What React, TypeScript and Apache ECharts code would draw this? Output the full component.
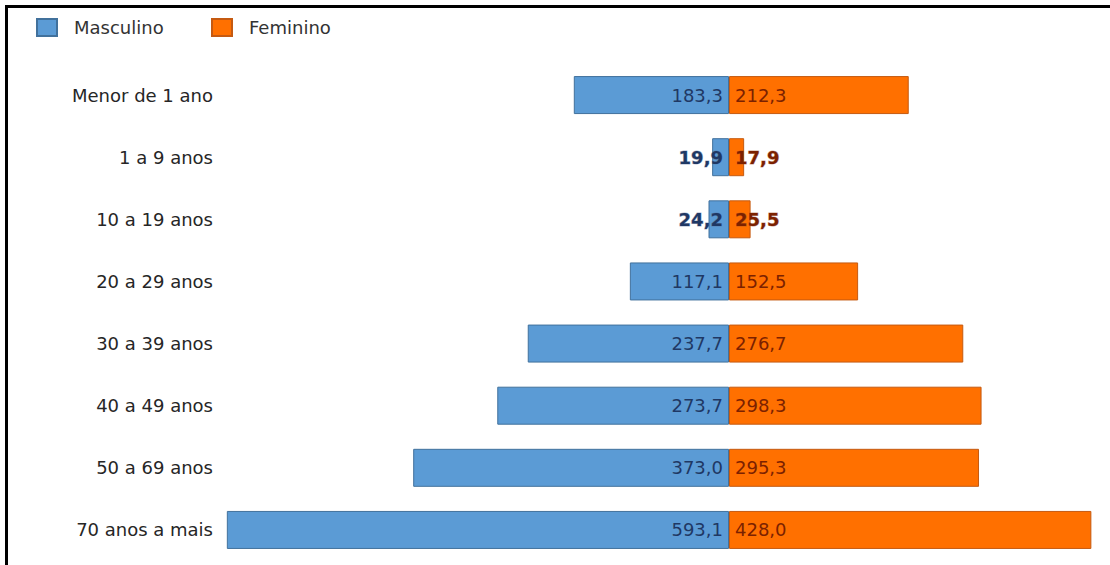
import React, { useEffect, useRef } from "react";
import * as echarts from "echarts";

const categories = [
  "Menor de 1 ano",
  "1 a 9 anos",
  "10 a 19 anos",
  "20 a 29 anos",
  "30 a 39 anos",
  "40 a 49 anos",
  "50 a 69 anos",
  "70 anos a mais",
];
const masculino = [183.3, 19.9, 24.2, 117.1, 237.7, 273.7, 373.0, 593.1];
const feminino = [212.3, 17.9, 25.5, 152.5, 276.7, 298.3, 295.3, 428.0];

const BLUE = "#5B9BD5";
const BLUE_BORDER = "#41719C";
const ORANGE = "#FF7000";
const ORANGE_BORDER = "#C55A11";
const FONT = "DejaVu Sans";

const fmt = (v: number) => Math.abs(v).toFixed(1).replace(".", ",");

export default function App() {
  const ref = useRef<HTMLDivElement>(null);
  useEffect(() => {
    if (!ref.current) return;
    const chart = echarts.init(ref.current, undefined, { renderer: "svg" });
    const small = (v: number) => Math.abs(v) < 50;
    const legendBase = {
      top: 13,
      itemWidth: 20,
      itemHeight: 17,
      icon: "rect",
      textStyle: { fontFamily: FONT, fontSize: 18, color: "#333", padding: [0, 0, 0, 12] },
    };
    chart.setOption({
      animation: false,
      backgroundColor: "#ffffff",
      legend: [
        { ...legendBase, left: 31, data: ["Masculino"] },
        { ...legendBase, left: 206, data: ["Feminino"] },
      ],
      graphic: [
        { type: "rect", shape: { x: 5, y: 5, width: 1105, height: 3 }, style: { fill: "#000" } },
        { type: "rect", shape: { x: 5, y: 5, width: 3, height: 560 }, style: { fill: "#000" } },
      ],
      grid: { left: 221, right: 0, top: 64, bottom: 4 },
      xAxis: {
        type: "value",
        min: -600,
        max: 450,
        show: false,
        splitLine: { show: false },
      },
      yAxis: {
        type: "category",
        data: categories,
        inverse: true,
        axisLine: { show: false },
        axisTick: { show: false },
        axisLabel: { fontFamily: FONT, fontSize: 18, color: "#262626", margin: 8 },
      },
      series: [
        {
          name: "Masculino",
          type: "bar",
          stack: "total",
          barWidth: 38,
          itemStyle: { color: BLUE, borderColor: BLUE_BORDER, borderWidth: 1 },
          data: masculino.map((v) => ({
            value: -v,
            label: small(v)
              ? { fontWeight: "bold", textBorderColor: "rgba(90,110,150,0.5)", textBorderWidth: 1 }
              : undefined,
          })),
          label: {
            show: true,
            position: "insideRight",
            distance: 6,
            fontFamily: FONT,
            fontSize: 18,
            color: "#1F3864",
            formatter: (p: any) => fmt(p.value),
          },
        },
        {
          name: "Feminino",
          type: "bar",
          stack: "total",
          barWidth: 38,
          itemStyle: { color: ORANGE, borderColor: ORANGE_BORDER, borderWidth: 1 },
          data: feminino.map((v) => ({
            value: v,
            label: small(v)
              ? { fontWeight: "bold", textBorderColor: "rgba(160,80,40,0.5)", textBorderWidth: 1 }
              : undefined,
          })),
          label: {
            show: true,
            position: "insideLeft",
            distance: 6,
            fontFamily: FONT,
            fontSize: 18,
            color: "#7B2100",
            formatter: (p: any) => fmt(p.value),
          },
        },
      ],
    });
    return () => chart.dispose();
  }, []);
  return (
    <div
      ref={ref}
      style={{ position: "fixed", left: 0, top: 0, width: 1110, height: 565, background: "#fff" }}
    />
  );
}
